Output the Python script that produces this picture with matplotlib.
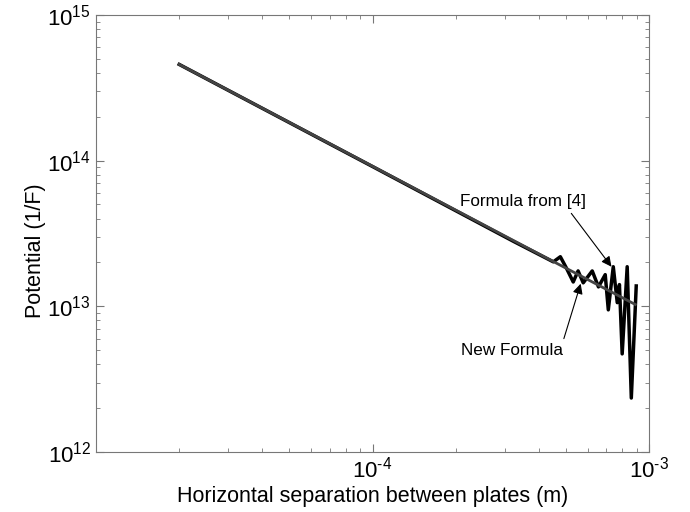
import matplotlib
matplotlib.use('Agg')
import matplotlib.pyplot as plt
from matplotlib.ticker import FuncFormatter
import math

plt.rcParams['font.family'] = ['Liberation Sans', 'DejaVu Sans']
plt.rcParams['mathtext.fontset'] = 'custom'
plt.rcParams['mathtext.rm'] = 'Liberation Sans'
plt.rcParams['mathtext.default'] = 'regular'

# formula from [4] (smooth curve)
sep_old = [2.0e-5, 1.0e-4, 4.5e-4, 8.9e-4]
pot_old = [4.57e14, 9.14e13, 2.03e13, 1.03e13]

# new formula (noisy at large separations)
sep_new = [2.0e-5, 1.0e-4, 3.22e-4, 4.50e-4, 4.77e-4, 5.01e-4, 5.31e-4,
           5.53e-4, 5.77e-4, 6.22e-4, 6.55e-4, 6.93e-4, 7.11e-4, 7.41e-4,
           7.66e-4, 7.80e-4, 7.98e-4, 8.32e-4, 8.61e-4, 8.97e-4]
pot_new = [4.57e14, 9.1e13, 2.8e13, 2.02e13, 2.19e13, 1.84e13, 1.47e13,
           1.75e13, 1.45e13, 1.75e13, 1.36e13, 1.65e13, 9.46e12, 1.87e13,
           1.06e13, 1.41e13, 4.72e12, 1.87e13, 2.35e12, 1.38e13]


def pow10(v, pos):
    e = int(round(math.log10(v)))
    return r'$10^{\text{%d}}$' % e


fig = plt.figure(figsize=(6.9, 5.12), dpi=100)
ax = fig.add_axes([0.139, 0.117, 0.802, 0.854])

ax.plot(sep_new, pot_new, color='black', lw=2.5)
ax.plot(sep_old, pot_old, color='#444444', lw=2.0)

ax.set_xscale('log')
ax.set_yscale('log')
ax.set_xlim(1e-5, 1e-3)
ax.set_ylim(1e12, 1e15)

ax.set_xticks([1e-4, 1e-3])
ax.set_yticks([1e12, 1e13, 1e14, 1e15])
ax.xaxis.set_major_formatter(FuncFormatter(pow10))
ax.yaxis.set_major_formatter(FuncFormatter(pow10))

for s in ax.spines.values():
    s.set_color('#777777')
ax.tick_params(which='both', direction='in', top=True, right=True,
               color='#777777', labelsize=16)
ax.tick_params(which='major', length=6)
ax.tick_params(which='minor', length=3)

ax.set_xlabel('Horizontal separation between plates (m)', fontsize=15.5, labelpad=2)
ax.set_ylabel('Potential (1/F)', fontsize=15.5)
ax.yaxis.set_label_coords(-0.09, 0.46)

ax.annotate('Formula from [4]', xy=(7.3e-4, 1.87e13), xytext=(2.07e-4, 5.2e13),
            fontsize=12.3, va='center', ha='left',
            arrowprops=dict(arrowstyle='-|>', color='black', lw=0.8,
                            mutation_scale=15,
                            shrinkA=1, shrinkB=0, relpos=(0.86, 0.0)))
ax.annotate('New Formula', xy=(5.65e-4, 1.43e13), xytext=(2.08e-4, 5.0e12),
            fontsize=12.3, va='center', ha='left',
            arrowprops=dict(arrowstyle='-|>', color='black', lw=0.8,
                            mutation_scale=15,
                            shrinkA=1, shrinkB=0, relpos=(1.0, 1.0)))

fig.savefig('out.png', dpi=100)
